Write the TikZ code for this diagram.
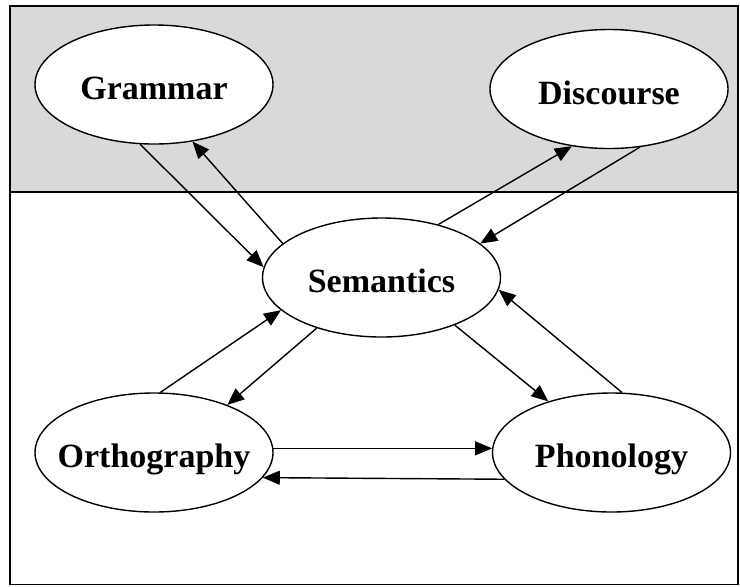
\documentclass[tikz,border=0pt]{standalone}
\usepackage{fontspec}
\setmainfont{Liberation Serif}
\usetikzlibrary{arrows.meta, shapes.geometric}
\newcommand{\nm}[1]{\makebox[0pt]{#1}}
\tikzstyle{area}=[ellipse, draw, fill=white, line width=0.7pt, inner sep=0pt,
                  minimum width=119pt, minimum height=59.5pt,
                  text height=15.2pt, text depth=0pt,
                  font=\fontsize{17}{20}\selectfont\bfseries]
\tikzstyle{ar}=[-{Triangle[length=8.5pt, width=7pt]}, line width=0.7pt]

\begin{document}
\begin{tikzpicture}[x=0.5pt, y=-0.5pt]
    \useasboundingbox (0,0) rectangle (740,586);
    % shaded band and frame
    \fill[gray!30] (10,6) rectangle (738,192);
    \draw[line width=0.6pt] (10,192) -- (738,192);
    \draw[line width=0.8pt] (10,6) rectangle (738,584.5);
    \draw[line width=1.2pt] (10,6) -- (738,6);
    % top row
    \node[area] (gram) at (154,84.5) {\nm{Grammar}};
    \node[area] (disc) at (609,89) {\nm{Discourse}};
    % middle
    \node[area] (sem)  at (381.5,277.5) {\nm{Semantics}};
    % bottom row
    \node[area] (orth) at (154,452.5) {\nm{Orthography}};
    \node[area] (phon) at (611.5,452.5) {\nm{Phonology}};
    \draw[ar] (gram.-103)--(sem.175);
    \draw[ar] (sem.161)--(gram.-56);
    \draw[ar] (sem.43)--(disc.-123);
    \draw[ar] (disc.-62)--(sem.19);
    \draw[ar] (orth.84)--(sem.-162);
    \draw[ar] (sem.-142.5)--(orth.33);
    \draw[ar] (sem.-33)--(phon.141);
    \draw[ar] (phon.80)--(sem.-6);
    \draw[ar] (orth.2)--(phon.178);
    \draw[ar] (phon.-166.3)--(orth.-13.7);
  \end{tikzpicture}
\end{document}
